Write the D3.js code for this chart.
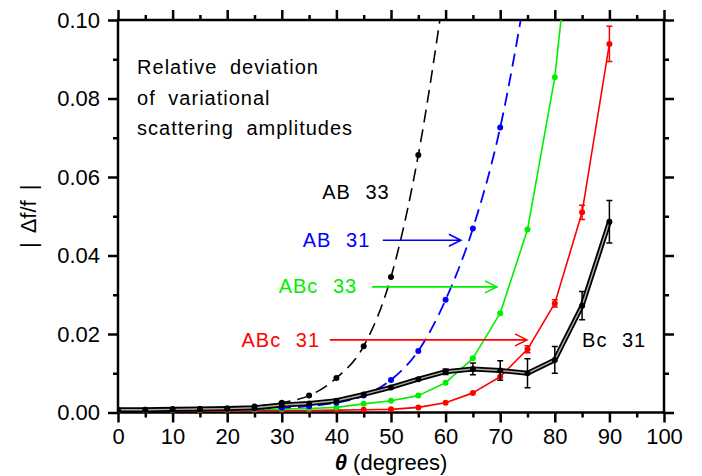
<!DOCTYPE html>
<html lang="en">
<head>
	<title>Relative deviation</title>
	<script src="https://d3js.org/d3.v7.min.js" charset="utf-8"></script>
	<meta charset='utf-8'>
	<style>
	body { margin: 0; background: #fff; }
	text { font-family: "Liberation Sans", Arial, sans-serif; }
	.axis path, .axis line { stroke: #000; stroke-width: 2.5; }
	.axis text { font-size: 22px; fill: #000; }
	</style>
</head>
<body>
	<script>
	// angles (degrees)
	var theta = [0, 5, 10, 15, 20, 25, 30, 35, 40, 45, 50, 55, 60, 65, 70, 75, 80, 85, 90];

	// AB 33 (black dashed)
	var ab33 = [0.0007, 0.0007, 0.0008, 0.0009, 0.0010, 0.0015, 0.0025, 0.0043, 0.0088, 0.0169, 0.0345, 0.0656, 0.110];
	// AB 31 (blue dashed)
	var ab31 = [0.0006, 0.0006, 0.0007, 0.0008, 0.0009, 0.0010, 0.0012, 0.0016, 0.0025, 0.0043, 0.0083, 0.0157, 0.0287, 0.0469, 0.0726, 0.110];
	// ABc 33 (green)
	var abc33 = [0.0005, 0.0005, 0.0006, 0.0006, 0.0007, 0.0008, 0.0009, 0.0010, 0.0013, 0.0022, 0.0030, 0.0043, 0.0076, 0.0138, 0.0253, 0.0466, 0.0854, 0.150];
	// ABc 31 (red) with errors
	var abc31 = [0.0004, 0.0004, 0.0004, 0.0004, 0.0004, 0.0005, 0.0005, 0.0005, 0.0006, 0.0007, 0.0008, 0.0013, 0.0025, 0.0050, 0.0091, 0.0161, 0.0278, 0.0510, 0.0939];
	var abc31Err = [0, 0, 0, 0, 0, 0, 0, 0, 0, 0, 0, 0, 0, 0, 0.0004, 0.0009, 0.0009, 0.0018, 0.0045];
	// Bc 31 (black double) with errors
	var bc31 = [0.0007, 0.0007, 0.0008, 0.0009, 0.0010, 0.0012, 0.0019, 0.0023, 0.0030, 0.0046, 0.0064, 0.0085, 0.0104, 0.0111, 0.0107, 0.0100, 0.0134, 0.0272, 0.0486];
	var bc31Err = [0, 0, 0, 0, 0, 0, 0, 0, 0, 0, 0.0003, 0.0004, 0.0007, 0.0015, 0.0025, 0.0037, 0.0034, 0.0036, 0.0054];

	var xMajor = d3.range(0, 101, 10);
	var xMinor = d3.range(5, 100, 10);
	var yMajor = [0, 0.02, 0.04, 0.06, 0.08, 0.10];
	var yMinor = [0.01, 0.03, 0.05, 0.07, 0.09];

	var titleLines = ["Relative deviation", "of variational", "scattering amplitudes"];
	var titleY = [0.0862, 0.0783, 0.0707];

	// series labels: text, colour, text anchor position (deg, value), arrow (from deg, to deg, value)
	var labelText = ["AB 33", "AB 31", "ABc 33", "ABc 31", "Bc 31"];
	var labelColor = ["#000", "#0000ff", "#00ee00", "#ff0000", "#000"];
	var labelX = [37.4, 46.2, 43.8, 37.0, 85.0];
	var labelY = [0.0544, 0.0422, 0.0304, 0.0167, 0.0167];
	var labelAnchor = ["start", "end", "end", "end", "start"];
	var arrowFrom = [null, 48.5, 46.5, 38.8, null];
	var arrowTo = [null, 62.8, 69.4, 74.9, null];
	var arrowY = [null, 0.0439, 0.0320, 0.0185, null];

	var width = 702;
	var height = 476;

	var svg = d3.select('body')
	.append('svg')
	.attr('width', width)
	.attr('height', height);

	var x = d3.scaleLinear().domain([0, 100]).range([118, 664]);
	var y = d3.scaleLinear().domain([0, 0.1]).range([412.5, 20]);

	svg.append('clipPath').attr('id', 'clip')
	.append('rect')
	.attr('x', x(0)).attr('y', y(0.1))
	.attr('width', x(100) - x(0)).attr('height', y(0) - y(0.1));

	// axes
	function addAxis(axis, tx, ty) {
		svg.append('g').attr('class', 'axis')
		.attr('transform', 'translate(' + tx + ',' + ty + ')')
		.call(axis)
		.call(function(g) { g.select('.domain').remove(); });
	}
	addAxis(d3.axisBottom(x).tickValues(xMajor).tickSize(10).tickPadding(6).tickFormat(d3.format('d')), 0, y(0));
	addAxis(d3.axisBottom(x).tickValues(xMinor).tickSize(5).tickFormat(''), 0, y(0));
	addAxis(d3.axisTop(x).tickValues(xMajor).tickSize(10).tickFormat(''), 0, y(0.1));
	addAxis(d3.axisTop(x).tickValues(xMinor).tickSize(5).tickFormat(''), 0, y(0.1));
	addAxis(d3.axisLeft(y).tickValues(yMajor).tickSize(10).tickPadding(8).tickFormat(d3.format('.2f')), x(0), 0);
	addAxis(d3.axisLeft(y).tickValues(yMinor).tickSize(5).tickFormat(''), x(0), 0);
	addAxis(d3.axisRight(y).tickValues(yMajor).tickSize(10).tickFormat(''), x(100), 0);
	addAxis(d3.axisRight(y).tickValues(yMinor).tickSize(5).tickFormat(''), x(100), 0);

	svg.append('rect')
	.attr('x', x(0)).attr('y', y(0.1))
	.attr('width', x(100) - x(0)).attr('height', y(0) - y(0.1))
	.attr('fill', 'none').attr('stroke', '#000').attr('stroke-width', 2.5);

	var plot = svg.append('g').attr('clip-path', 'url(#clip)');

	var smooth = d3.line()
	.x(function(d) { return x(d.t); })
	.y(function(d) { return y(d.v); })
	.curve(d3.curveMonotoneX);

	var straight = d3.line()
	.x(function(d) { return x(d.t); })
	.y(function(d) { return y(d.v); });

	function pts(vals, errs) {
		return vals.map(function(v, i) { return {t: theta[i], v: v, e: errs ? errs[i] : 0}; });
	}

	function drawSeries(data, color, dash, width, gen) {
		plot.append('path')
		.datum(data)
		.attr('fill', 'none')
		.attr('stroke', color)
		.attr('stroke-width', width)
		.attr('stroke-dasharray', dash)
		.attr('stroke-linejoin', 'round')
		.attr('d', gen);
	}

	function drawMarkers(data, color) {
		var g = plot.append('g');
		g.selectAll('path.err')
		.data(data.filter(function(d) { return d.e > 0.0006; }))
		.enter().append('path')
		.attr('fill', 'none').attr('stroke', color).attr('stroke-width', 1.5)
		.attr('d', function(d) {
			var xx = x(d.t), y1 = y(d.v - d.e), y2 = y(d.v + d.e);
			return 'M' + (xx - 3) + ',' + y1 + 'H' + (xx + 3) + 'M' + xx + ',' + y1 + 'V' + y2 + 'M' + (xx - 3) + ',' + y2 + 'H' + (xx + 3);
		});
		g.selectAll('circle')
		.data(data)
		.enter().append('circle')
		.attr('cx', function(d) { return x(d.t); })
		.attr('cy', function(d) { return y(d.v); })
		.attr('r', 3)
		.attr('fill', color);
	}

	var dAbc31 = pts(abc31, abc31Err);
	var dAbc33 = pts(abc33);
	var dAb31 = pts(ab31);
	var dAb33 = pts(ab33);
	var dBc31 = pts(bc31, bc31Err);

	drawSeries(dAbc31, '#ff0000', null, 1.6, straight);
	drawMarkers(dAbc31, '#ff0000');
	drawSeries(dAbc33, '#00ee00', null, 1.6, straight);
	drawMarkers(dAbc33, '#00ee00');
	drawSeries(dAb31, '#0000ff', '13,7', 1.8, smooth);
	drawMarkers(dAb31, '#0000ff');
	drawSeries(dAb33, '#000', '13,7', 1.6, smooth);
	drawMarkers(dAb33, '#000');
	drawSeries(dBc31, '#000', null, 5, straight);
	drawSeries(dBc31, '#aaa', null, 1.4, straight);
	drawMarkers(dBc31, '#000');

	// title text
	svg.selectAll('text.title')
	.data(titleLines)
	.enter().append('text')
	.attr('class', 'title')
	.attr('x', x(3.5))
	.attr('y', function(d, i) { return y(titleY[i]); })
	.attr('font-size', 20)
	.attr('letter-spacing', 1)
	.attr('word-spacing', 6)
	.text(function(d) { return d; });

	// series labels and arrows
	labelText.forEach(function(t, i) {
		svg.append('text')
		.attr('x', x(labelX[i]))
		.attr('y', y(labelY[i]))
		.attr('text-anchor', labelAnchor[i])
		.attr('font-size', 20)
		.attr('letter-spacing', 1)
		.attr('word-spacing', 8)
		.attr('fill', labelColor[i])
		.text(t);
		if (arrowFrom[i] !== null) {
			var ax1 = x(arrowFrom[i]), ax2 = x(arrowTo[i]), ay = y(arrowY[i]);
			svg.append('path')
			.attr('fill', 'none')
			.attr('stroke', labelColor[i])
			.attr('stroke-width', 1.6)
			.attr('d', 'M' + ax1 + ',' + ay + 'H' + ax2 + 'M' + (ax2 - 12) + ',' + (ay - 6) + 'L' + ax2 + ',' + ay + 'L' + (ax2 - 12) + ',' + (ay + 6));
		}
	});

	// axis titles
	var xt = svg.append('text')
	.attr('x', (x(0) + x(100)) / 2)
	.attr('y', 470)
	.attr('text-anchor', 'middle')
	.attr('font-size', 22);
	xt.append('tspan').attr('font-weight', 'bold').attr('font-style', 'italic').text('θ');
	xt.append('tspan').text(' (degrees)');

	svg.append('text')
	.attr('transform', 'translate(36,' + ((y(0) + y(0.1)) / 2) + ') rotate(-90)')
	.attr('text-anchor', 'middle')
	.attr('font-size', 22)
	.attr('word-spacing', 4)
	.text('| Δf/f |');
	</script>
</body>
</html>
